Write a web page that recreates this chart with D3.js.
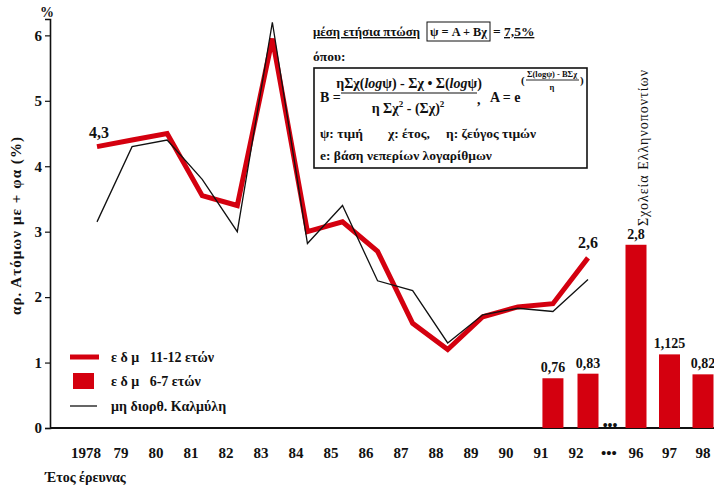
<!DOCTYPE html>
<html>
<head>
<meta charset="utf-8">
<script src="https://cdn.jsdelivr.net/npm/d3@7"></script>
<style>
  html, body { margin: 0; padding: 0; background: #fff; }
  svg { display: block; }
  text { font-family: "Liberation Serif", "Times New Roman", serif; fill: #111; white-space: pre; }
</style>
</head>
<body>
<svg id="chart" width="714" height="489"></svg>
<script>
// Survey years on the horizontal axis ("•••" marks the gap 1993-95)
const categories = ["1978","79","80","81","82","83","84","85","86","87","88","89","90","91","92","•••","96","97","98"];

// ε δ μ 11-12 ετών (thick red line), 1978-1992
const lineYears = ["1978","79","80","81","82","83","84","85","86","87","88","89","90","91","92"];
const edm1112 = [4.3, 4.4, 4.5, 3.55, 3.4, 5.95, 3.0, 3.15, 2.7, 1.6, 1.2, 1.7, 1.85, 1.9, 2.6];

// μη διορθ. Καλμύλη (thin black line), 1978-1992
const kalmyli = [3.15, 4.3, 4.4, 3.8, 3.0, 6.2, 2.82, 3.4, 2.25, 2.1, 1.3, 1.73, 1.83, 1.78, 2.27];

// ε δ μ 6-7 ετών (red bars)
const barYears = ["91","92","96","97","98"];
const edm67 = [0.76, 0.83, 2.8, 1.125, 0.82];
const barLabels = ["0,76","0,83","2,8","1,125","0,82"];

const yTicks = [0, 1, 2, 3, 4, 5, 6];

const RED = "#d4000f";

const svg = d3.select("#chart");

const y = d3.scaleLinear().domain([0, 6.25]).range([428, 19]);

// category index -> pixel; the span after 1992 is drawn tighter
const idx = c => categories.indexOf(c);
const xMark = d3.scaleLinear().domain([0, 14, 15, 16, 18]).range([97, 588, 610, 636, 703]);
const xTick = d3.scaleLinear().domain([0, 14, 15, 16, 18]).range([86, 576, 609, 636, 703]);
const xm = c => xMark(idx(c));

// ---- Y axis ----
const yAxis = d3.axisLeft(y).tickValues(yTicks).tickSize(5).tickPadding(3).tickFormat(d3.format("d"));
const gy = svg.append("g").attr("transform", "translate(50,0)").call(yAxis);
gy.select(".domain").attr("stroke", "#111").attr("stroke-width", 1.6);
gy.selectAll(".tick line").attr("stroke", "#111").attr("stroke-width", 1.2);
gy.selectAll(".tick text")
  .attr("font-family", "Liberation Serif").attr("font-weight", "bold")
  .attr("font-size", 15).attr("fill", "#111");

svg.append("text").attr("x", 47).attr("y", 17).attr("text-anchor", "middle")
  .attr("font-size", 14).attr("font-weight", "bold").text("%");

svg.append("text")
  .attr("transform", "translate(21,226) rotate(-90)")
  .attr("text-anchor", "middle").attr("font-size", 15).attr("font-weight", "bold")
  .attr("textLength", 178).attr("lengthAdjust", "spacing")
  .text("αρ. Ατόμων με + φα (%)");

// ---- X axis ----
svg.append("line").attr("x1", 50).attr("x2", 714).attr("y1", 428).attr("y2", 428)
  .attr("stroke", "#111").attr("stroke-width", 2);

svg.append("g").selectAll("text").data(categories).join("text")
  .attr("x", d => xTick(idx(d)))
  .attr("y", 458)
  .attr("text-anchor", "middle")
  .attr("font-size", 15).attr("font-weight", "bold")
  .text(d => d);

svg.append("text").attr("x", xMark(idx("•••"))).attr("y", 430)
  .attr("text-anchor", "middle").attr("font-size", 14).attr("font-weight", "bold")
  .text("•••");

svg.append("text").attr("x", 45).attr("y", 482).attr("font-size", 14).attr("font-weight", "bold")
  .text("Έτος έρευνας");

// ---- Bars ----
const bw = 21;
svg.append("g").selectAll("rect").data(barYears).join("rect")
  .attr("x", (d) => xm(d) - bw / 2)
  .attr("y", (d, i) => y(edm67[i]))
  .attr("width", bw)
  .attr("height", (d, i) => y(0) - y(edm67[i]))
  .attr("fill", RED);

svg.append("g").selectAll("text").data(barYears).join("text")
  .attr("x", d => xm(d))
  .attr("y", (d, i) => y(edm67[i]) - 6)
  .attr("text-anchor", "middle").attr("font-size", 14).attr("font-weight", "bold")
  .text((d, i) => barLabels[i]);

// ---- Lines ----
const line = d3.line().x(d => d.x).y(d => d.y);
const pts = vals => lineYears.map((c, i) => ({ x: xm(c), y: y(vals[i]) }));

svg.append("path").attr("d", line(pts(edm1112)))
  .attr("fill", "none").attr("stroke", RED).attr("stroke-width", 5)
  .attr("stroke-linejoin", "miter").attr("stroke-linecap", "butt");

svg.append("path").attr("d", line(pts(kalmyli)))
  .attr("fill", "none").attr("stroke", "#111").attr("stroke-width", 1.3)
  .attr("stroke-linejoin", "miter");

svg.append("text").attr("x", xm("1978") + 2).attr("y", y(edm1112[0]) - 9)
  .attr("text-anchor", "middle").attr("font-size", 16).attr("font-weight", "bold").text("4,3");
svg.append("text").attr("x", xm("92")).attr("y", y(edm1112[14]) - 10)
  .attr("text-anchor", "middle").attr("font-size", 16).attr("font-weight", "bold").text("2,6");

// ---- Vertical note over 1996-98 ----
svg.append("text")
  .attr("transform", `translate(${xm("96") + 12},226) rotate(-90)`)
  .attr("font-size", 14)
  .attr("textLength", 156).attr("lengthAdjust", "spacing")
  .text("Σχολεία Ελληνοποντίων");

// ---- Legend ----
const lg = svg.append("g").attr("font-weight", "bold").attr("font-size", 14);
lg.append("line").attr("x1", 70).attr("x2", 99).attr("y1", 357).attr("y2", 357)
  .attr("stroke", RED).attr("stroke-width", 5);
lg.append("text").attr("x", 111).attr("y", 362).text("ε δ μ   11-12 ετών");
lg.append("rect").attr("x", 73).attr("y", 373).attr("width", 21).attr("height", 16).attr("fill", RED);
lg.append("text").attr("x", 111).attr("y", 386).text("ε δ μ   6-7 ετών");
lg.append("line").attr("x1", 70).attr("x2", 97).attr("y1", 406).attr("y2", 406)
  .attr("stroke", "#111").attr("stroke-width", 1.3);
lg.append("text").attr("x", 111).attr("y", 411).text("μη διορθ. Καλμύλη");

// ---- Trend formula note ----
const note = svg.append("g").attr("font-weight", "bold");
note.append("text").attr("x", 313).attr("y", 36).attr("font-size", 13.5)
  .attr("textLength", 107).attr("lengthAdjust", "spacingAndGlyphs")
  .attr("text-decoration", "underline").text("μέση ετήσια πτώση");
note.append("rect").attr("x", 427).attr("y", 22).attr("width", 63).attr("height", 19)
  .attr("fill", "none").attr("stroke", "#111").attr("stroke-width", 1);
note.append("text").attr("x", 430).attr("y", 36).attr("font-size", 13.5)
  .attr("textLength", 57).attr("lengthAdjust", "spacingAndGlyphs").text("ψ = A + Bχ");
note.append("text").attr("x", 493).attr("y", 36).attr("font-size", 13.5).text("= ");
note.append("text").attr("x", 504).attr("y", 36).attr("font-size", 13.5)
  .attr("text-decoration", "underline").text("7,5%");
note.append("text").attr("x", 313).attr("y", 61).attr("font-size", 13.5).text("όπου:");

note.append("rect").attr("x", 314).attr("y", 68).attr("width", 273).attr("height", 100)
  .attr("fill", "none").attr("stroke", "#111").attr("stroke-width", 1.6);

note.append("text").attr("x", 320).attr("y", 102).attr("font-size", 14).text("B =");
const num = note.append("text").attr("x", 409).attr("y", 88).attr("font-size", 14).attr("text-anchor", "middle");
num.append("tspan").text("ηΣχ(");
num.append("tspan").attr("font-style", "italic").text("log");
num.append("tspan").text("ψ) - Σχ • Σ(");
num.append("tspan").attr("font-style", "italic").text("log");
num.append("tspan").text("ψ)");
note.append("line").attr("x1", 341).attr("x2", 477).attr("y1", 93).attr("y2", 93)
  .attr("stroke", "#111").attr("stroke-width", 1.2);
const den = note.append("text").attr("x", 408).attr("y", 113).attr("font-size", 14).attr("text-anchor", "middle");
den.append("tspan").text("η Σχ");
den.append("tspan").attr("font-size", 9).attr("dy", -6).text("2");
den.append("tspan").attr("dy", 6).text(" - (Σχ)");
den.append("tspan").attr("font-size", 9).attr("dy", -6).text("2");
note.append("text").attr("x", 477).attr("y", 104).attr("font-size", 14).text(",");

note.append("text").attr("x", 490).attr("y", 102).attr("font-size", 14).text("A = e");
note.append("text").attr("x", 521).attr("y", 84).attr("font-size", 11).text("(");
note.append("text").attr("x", 552).attr("y", 77).attr("font-size", 8.5).attr("text-anchor", "middle")
  .text("Σ(logψ) - BΣχ");
note.append("line").attr("x1", 526).attr("x2", 579).attr("y1", 80).attr("y2", 80)
  .attr("stroke", "#111").attr("stroke-width", 0.9);
note.append("text").attr("x", 552).attr("y", 90).attr("font-size", 8.5).attr("text-anchor", "middle").text("η");
note.append("text").attr("x", 580).attr("y", 84).attr("font-size", 11).text(")");

const l3 = note.append("text").attr("y", 138).attr("font-size", 13.5);
l3.append("tspan").attr("x", 320).text("ψ: τιμή");
l3.append("tspan").attr("x", 388).text("χ: έτος,");
l3.append("tspan").attr("x", 446).text("η: ζεύγος τιμών");
note.append("text").attr("x", 320).attr("y", 160).attr("font-size", 13.5).text("e: βάση νεπερίων λογαρίθμων");
</script>
</body>
</html>
